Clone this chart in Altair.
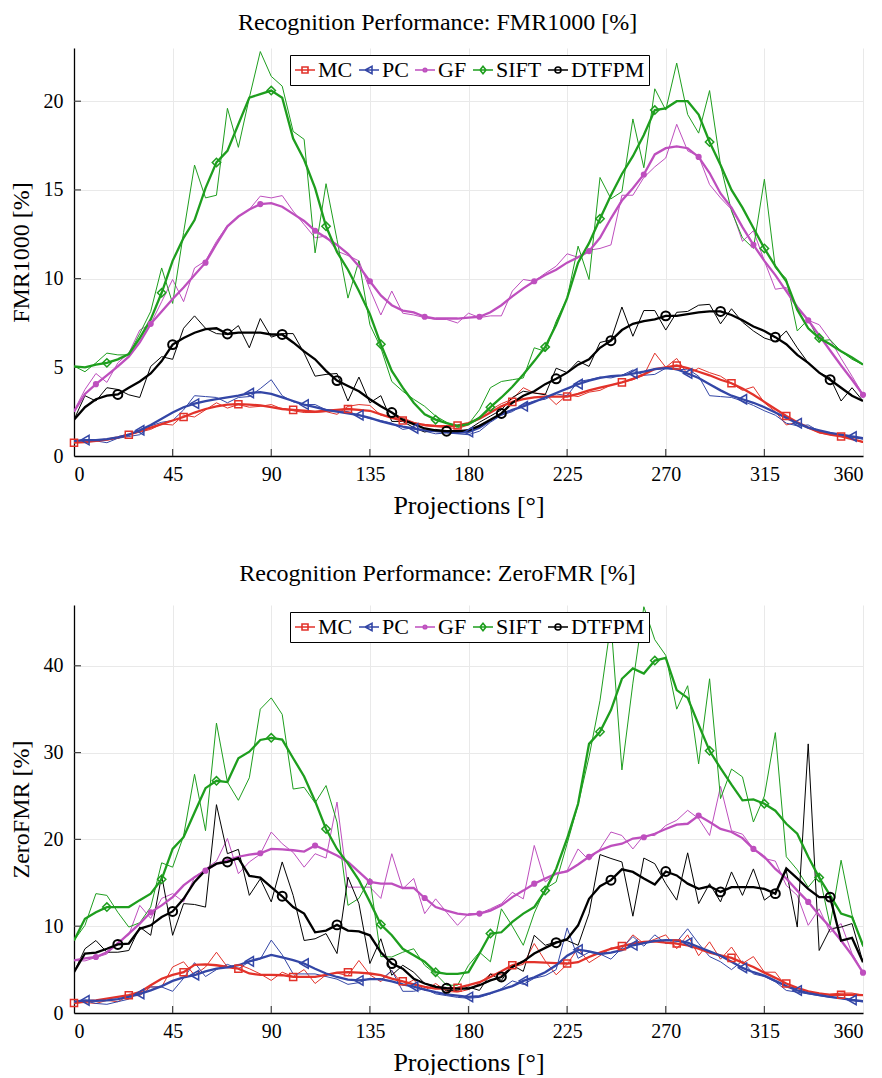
import altair as alt
import pandas as pd

FONT = "'Liberation Serif', 'DejaVu Serif', serif"
DEG = list(range(0, 361, 5))
SERIES = ["MC", "PC", "GF", "SIFT", "DTFPM"]
COLORS = ["#e2322a", "#3346a6", "#be4fbe", "#1e9e1e", "#000000"]
MARKER_START = [0, 5, 10, 15, 20]
MARKER_SHAPES = ["square", "triangle-left", "circle", "diamond", "circle"]
MARKER_SIZES = [50, 90, 38, 70, 80]
MARKER_FILLED = [False, False, True, False, False]
MARKER_STROKE = [1.5, 1.5, 1.5, 1.5, 2.0]
LEGEND_PATHS = [
    "M-1,0L1,0M-0.3,-0.3L0.3,-0.3L0.3,0.3L-0.3,0.3Z",
    "M-1,0L1,0M-0.38,0L0.3,-0.36L0.3,0.36Z",
    "M-1,0L1,0M-0.18,0A0.18,0.18,0,1,1,0.18,0A0.18,0.18,0,1,1,-0.18,0Z",
    "M-1,0L1,0M-0.3,0L0,-0.38L0.3,0L0,0.38Z",
    "M-1,0L1,0M-0.3,0A0.3,0.3,0,1,1,0.3,0A0.3,0.3,0,1,1,-0.3,0Z",
]
X_TICKS = [0, 45, 90, 135, 180, 225, 270, 315, 360]
PLOT_W = 789
PLOT_H = 408

# ---------------- FMR1000 [%] ----------------
MC_FMR_RAW = [0.75, 0.8, 0.85, 0.9, 1.0, 1.2, 1.35, 1.5, 1.8,
              1.75, 2.3, 2.2, 2.6, 3.0, 2.7, 2.9, 2.75, 2.8,
              2.9, 2.65, 2.55, 2.45, 2.45, 2.5, 2.35, 2.8, 2.9,
              2.85, 2.3, 2.2, 2.15, 1.9, 1.7, 1.65, 1.6, 1.55,
              1.75, 2.2, 2.6, 2.95, 3.2, 3.85, 3.55, 3.5, 2.9,
              3.45, 3.35, 3.6, 3.7, 4.0, 4.15, 4.3, 4.55, 5.8,
              5.0, 5.5, 4.6, 4.95, 4.7, 4.5, 4.1, 3.7, 3.9,
              3.0, 2.5, 1.75, 1.9, 1.6, 1.3, 1.2, 1.2, 1.0,
              0.75]
MC_FMR_SMOOTH = [0.75, 0.78, 0.85, 0.92, 1.05, 1.2, 1.4, 1.6, 1.8,
                 2.0, 2.2, 2.45, 2.65, 2.8, 2.9, 2.92, 2.9, 2.85,
                 2.75, 2.65, 2.6, 2.55, 2.5, 2.55, 2.6, 2.65, 2.6,
                 2.55, 2.35, 2.15, 2.0, 1.85, 1.75, 1.7, 1.68, 1.72,
                 1.85, 2.1, 2.45, 2.8, 3.05, 3.2, 3.3, 3.35, 3.35,
                 3.35, 3.5, 3.7, 3.85, 4.0, 4.15, 4.35, 4.6, 4.9,
                 5.0, 5.1, 4.95, 4.75, 4.55, 4.3, 4.1, 3.8, 3.45,
                 3.05, 2.65, 2.25, 1.9, 1.6, 1.35, 1.2, 1.1, 0.95,
                 0.8]
PC_FMR_RAW = [0.8, 0.9, 0.85, 0.75, 1.0, 1.1, 1.2, 1.7, 1.9,
              2.0, 2.6, 3.4, 3.35, 3.3, 3.0, 3.3, 3.35, 3.8,
              4.3, 3.4, 3.05, 2.9, 2.9, 2.6, 2.55, 2.5, 2.3,
              2.1, 2.0, 1.85, 1.5, 1.6, 1.4, 1.25, 1.3, 1.25,
              1.2, 1.4, 1.9, 2.3, 2.5, 2.9, 3.1, 3.2, 3.5,
              3.4, 4.2, 4.3, 4.45, 4.4, 4.55, 4.85, 4.55, 4.6,
              4.95, 4.85, 4.9, 4.5, 3.4, 3.35, 3.3, 3.1, 2.85,
              2.55, 2.3, 1.85, 1.7, 1.75, 1.4, 1.2, 1.15, 1.05,
              0.95]
PC_FMR_SMOOTH = [0.85, 0.9, 0.9, 0.95, 1.05, 1.2, 1.45, 1.75, 2.1,
                 2.45, 2.75, 2.95, 3.1, 3.2, 3.3, 3.4, 3.55, 3.6,
                 3.5, 3.3, 3.1, 2.9, 2.75, 2.6, 2.5, 2.4, 2.3,
                 2.15, 1.95, 1.8, 1.65, 1.55, 1.45, 1.4, 1.35, 1.3,
                 1.35, 1.6, 2.0, 2.35, 2.6, 2.8, 3.05, 3.3, 3.55,
                 3.8, 4.05, 4.25, 4.4, 4.5, 4.55, 4.65, 4.75, 4.9,
                 4.95, 4.9, 4.65, 4.4, 4.05, 3.7, 3.4, 3.2, 3.0,
                 2.75, 2.45, 2.15, 1.85, 1.6, 1.45, 1.3, 1.2, 1.1,
                 1.0]
GF_FMR_RAW = [2.55, 3.75, 4.65, 4.15, 5.25, 5.8, 7.1, 7.45, 8.7,
              9.95, 8.7, 10.6, 11.0, 12.1, 13.0, 13.5, 13.9, 14.65,
              14.55, 14.68, 13.8, 13.05, 12.3, 12.4, 11.55, 11.3, 11.0,
              9.4, 7.95, 9.3, 8.05, 7.95, 7.8, 7.7, 7.7, 7.5,
              8.05, 7.8, 7.9, 7.9, 9.3, 9.95, 9.85, 10.3, 10.7,
              11.4, 11.2, 11.6, 11.7, 11.9, 14.7, 14.7, 15.7, 16.3,
              16.8, 18.7, 17.2, 16.9, 15.3, 14.55, 13.9, 12.1, 12.7,
              11.0, 9.4, 9.5, 8.3, 7.65, 7.4, 6.55, 5.5, 4.5,
              3.45]
GF_FMR_SMOOTH = [2.5, 3.5, 4.05, 4.55, 5.05, 5.6, 6.4, 7.45, 8.15,
                 8.85, 9.5, 10.2, 10.9, 11.95, 12.95, 13.5, 13.9, 14.2,
                 14.25, 14.05, 13.65, 13.25, 12.7, 12.3, 11.9, 11.4, 10.7,
                 9.85, 9.05, 8.5, 8.2, 8.1, 7.85, 7.75, 7.75, 7.75,
                 7.8, 7.85, 8.1, 8.5, 9.0, 9.45, 9.85, 10.2, 10.5,
                 10.9, 11.2, 11.55, 12.3, 13.4, 14.4, 15.1, 15.87, 17.0,
                 17.35, 17.45, 17.35, 16.86, 15.95, 14.8, 14.0, 12.9, 11.9,
                 11.0, 10.2, 9.3, 8.4, 7.65, 6.8, 5.95, 5.1, 4.3,
                 3.45]
SIFT_FMR_RAW = [5.07, 4.75, 5.25, 5.8, 5.7, 5.7, 6.9, 8.15, 10.6,
                8.6, 12.6, 16.4, 14.55, 14.7, 19.6, 17.4, 20.2, 22.8,
                21.4, 20.85, 18.3, 17.85, 11.45, 15.35, 12.2, 8.9, 11.0,
                7.4, 6.1, 4.2, 3.65, 3.2, 2.8, 2.25, 1.9, 1.6,
                1.8, 2.6, 3.85, 4.2, 4.3, 4.4, 6.1, 5.9, 7.6,
                8.9, 11.83, 9.95, 15.7, 14.5, 14.9, 19.0, 16.25, 20.7,
                19.5, 22.15, 19.25, 18.2, 20.6, 16.4, 13.8, 12.3, 11.7,
                15.6, 10.6, 10.0, 7.05, 7.7, 6.5, 6.55, 5.9, 5.45,
                5.15]
SIFT_FMR_SMOOTH = [5.05, 5.0, 5.15, 5.25, 5.45, 5.75, 6.65, 7.7, 9.2,
                   11.0, 12.3, 13.3, 15.1, 16.55, 17.2, 18.7, 20.2, 20.4,
                   20.6, 20.2, 17.9, 16.7, 15.1, 12.95, 11.5, 10.5, 9.3,
                   8.0, 6.3, 4.8, 3.85, 3.0, 2.35, 2.05, 1.85, 1.7,
                   1.8, 2.15, 2.75, 3.3, 3.9, 4.6, 5.35, 6.15, 7.4,
                   8.9, 10.9, 12.0, 13.37, 14.7, 15.9, 16.9, 18.1, 19.5,
                   19.6, 20.0, 20.0, 19.25, 17.7, 16.4, 15.0, 14.0, 12.85,
                   11.7, 10.7, 9.85, 8.25, 7.2, 6.65, 6.3, 5.9, 5.55,
                   5.15]
DTFPM_FMR_RAW = [2.05, 3.4, 3.1, 3.85, 3.75, 3.45, 3.3, 5.05, 5.6,
                 5.45, 7.2, 7.9, 7.2, 6.9, 6.85, 7.35, 6.1, 7.75,
                 6.7, 6.9, 6.9, 5.8, 4.5, 4.6, 4.65, 3.1, 4.45,
                 3.0, 3.4, 1.95, 1.95, 1.6, 1.35, 1.5, 1.4, 1.35,
                 1.5, 1.9, 2.25, 2.6, 3.3, 3.65, 3.55, 3.45, 4.95,
                 4.7, 5.35, 5.05, 6.4, 6.55, 8.4, 6.75, 8.2, 8.2,
                 7.1, 8.1, 8.15, 8.5, 8.55, 7.45, 8.3, 7.55, 7.05,
                 6.65, 6.45, 7.05, 6.1, 5.25, 4.7, 4.4, 3.1, 3.85,
                 3.1]
DTFPM_FMR_SMOOTH = [2.05, 2.75, 3.2, 3.4, 3.47, 3.85, 4.2, 4.65, 5.35,
                    6.28, 6.65, 6.95, 7.15, 7.2, 6.88, 6.95, 6.95, 6.95,
                    6.85, 6.85, 6.4, 5.9, 5.45, 4.8, 4.25, 3.95, 3.65,
                    3.2, 2.8, 2.45, 2.05, 1.8, 1.55, 1.45, 1.4, 1.4,
                    1.45, 1.7, 2.05, 2.4, 3.0, 3.4, 3.65, 4.05, 4.35,
                    4.7, 5.15, 5.45, 6.1, 6.5, 7.1, 7.45, 7.6, 7.7,
                    7.9, 7.9, 8.0, 8.1, 8.15, 8.15, 7.95, 7.65, 7.3,
                    7.05, 6.7, 6.3, 5.7, 5.25, 4.7, 4.3, 3.85, 3.4,
                    3.1]

# ---------------- ZeroFMR [%] ----------------
MC_ZERO_RAW = [1.15, 1.2, 1.1, 1.45, 1.3, 2.0, 2.0, 3.0, 3.0,
               5.3, 5.9, 4.35, 5.3, 7.0, 5.3, 5.6, 5.1, 4.5,
               3.75, 4.7, 4.2, 5.0, 3.4, 4.4, 4.6, 4.3, 6.05,
               4.4, 3.6, 4.9, 3.2, 3.8, 2.6, 3.4, 2.5, 2.4,
               2.7, 3.4, 4.5, 4.4, 5.3, 5.6, 8.0, 6.0, 4.4,
               5.6, 7.5, 5.8, 6.6, 7.5, 7.4, 9.0, 8.0, 8.5,
               9.0, 7.4, 9.0, 6.6, 8.2, 6.2, 7.6, 5.7, 6.5,
               4.7, 4.7, 3.0, 2.9, 2.5, 2.2, 2.15, 2.3, 2.3,
               2.05]
MC_ZERO_SMOOTH = [1.15, 1.35, 1.45, 1.65, 1.85, 2.05, 2.4, 3.2, 3.95,
                  4.4, 4.7, 5.55, 5.6, 5.5, 5.3, 5.1, 4.55, 4.4,
                  4.4, 4.35, 4.15, 4.15, 4.15, 4.4, 4.65, 4.7, 4.65,
                  4.55, 4.35, 3.95, 3.65, 3.3, 3.0, 2.8, 2.8, 2.9,
                  3.2, 3.55, 4.15, 4.8, 5.5, 5.85, 5.85, 5.8, 5.75,
                  5.7, 5.85, 6.45, 6.95, 7.4, 7.7, 8.0, 8.2, 8.25,
                  8.1, 8.0, 7.8, 7.4, 6.95, 6.65, 6.35, 5.8, 5.3,
                  4.65, 4.05, 3.4, 2.9, 2.5, 2.25, 2.1, 2.1, 2.1,
                  2.05]
PC_ZERO_RAW = [1.3, 1.4, 1.1, 1.0, 1.3, 1.6, 2.5, 3.0, 3.0,
               2.5, 4.0, 5.8, 4.2, 5.0, 5.6, 5.1, 5.9, 6.2,
               8.4, 6.7, 4.5, 4.5, 4.5, 4.2, 3.9, 3.3, 3.5,
               4.0, 3.8, 4.9, 2.5, 2.5, 2.8, 2.2, 2.0, 1.8,
               1.7, 1.8, 2.2, 2.8, 3.7, 3.3, 4.0, 4.3, 5.0,
               9.8, 6.3, 7.0, 6.8, 6.2, 7.5, 8.8, 7.7, 9.0,
               8.0, 8.2, 9.7, 8.0, 6.5, 5.9, 5.0, 6.0, 4.5,
               4.2, 3.6, 2.6, 2.4, 2.2, 2.0, 1.8, 1.7, 1.4,
               1.3]
PC_ZERO_SMOOTH = [1.3, 1.45, 1.4, 1.45, 1.6, 1.85, 2.2, 2.6, 3.1,
                  3.7, 4.1, 4.35, 4.8, 5.1, 5.25, 5.5, 5.95, 6.3,
                  6.7, 6.4, 6.1, 5.7, 5.1, 4.55, 4.15, 3.85, 3.75,
                  3.9, 3.9, 3.65, 3.3, 3.05, 2.7, 2.4, 2.15, 2.0,
                  1.85, 1.95, 2.3, 2.7, 3.1, 3.7, 4.1, 4.7, 5.5,
                  6.6, 7.3, 7.1, 6.8, 6.95, 7.25, 7.8, 8.05, 8.3,
                  8.4, 8.35, 8.1, 7.6, 7.1, 6.6, 5.9, 5.2, 4.7,
                  4.3, 3.7, 3.1, 2.6, 2.3, 2.05, 1.85, 1.7, 1.5,
                  1.35]
GF_ZERO_RAW = [6.05, 6.0, 6.4, 6.8, 8.2, 9.0, 12.4, 10.9, 13.2,
               13.75, 12.8, 15.65, 16.6, 17.5, 20.1, 16.05, 17.4, 18.3,
               20.85, 19.5, 18.5, 16.8, 18.35, 17.85, 24.3, 14.5, 14.5,
               14.5, 13.2, 18.35, 14.3, 15.5, 11.45, 13.15, 11.6, 10.1,
               11.45, 11.45, 12.0, 12.6, 13.9, 13.15, 19.3, 15.1, 16.05,
               16.4, 18.9, 17.6, 18.9, 20.85, 20.45, 18.9, 20.45, 20.45,
               21.6, 22.2, 23.35, 22.4, 20.45, 26.1, 21.0, 20.6, 18.9,
               17.8, 17.5, 14.7, 13.55, 10.1, 12.0, 9.3, 10.3, 6.85,
               4.65]
GF_ZERO_SMOOTH = [6.05, 6.3, 6.45, 7.0, 8.0, 9.15, 10.3, 11.6, 12.4,
                  13.35, 14.7, 15.65, 16.4, 17.2, 17.6, 18.0, 18.25, 18.4,
                  18.9, 18.85, 18.75, 18.6, 19.3, 18.75, 18.15, 17.4, 16.25,
                  15.1, 14.9, 14.9, 14.4, 14.4, 13.25, 12.2, 11.8, 11.45,
                  11.3, 11.45, 11.8, 12.4, 13.35, 14.1, 14.9, 15.5, 16.05,
                  16.3, 17.1, 18.0, 18.75, 19.25, 19.5, 20.1, 20.25, 20.65,
                  21.2, 21.7, 21.8, 22.75, 22.0, 21.2, 20.85, 20.15, 18.9,
                  18.0, 16.6, 15.5, 14.1, 12.8, 11.25, 9.9, 8.35, 6.65,
                  4.65]
SIFT_ZERO_RAW = [8.35, 10.1, 13.75, 13.55, 11.6, 9.9, 10.4, 12.2, 17.3,
                 16.8, 20.4, 27.5, 21.0, 33.4, 26.6, 24.5, 27.1, 35.0,
                 36.3, 34.4, 25.8, 26.0, 24.2, 26.2, 22.0, 12.4, 13.2,
                 15.5, 6.5, 6.45, 7.0, 7.4, 5.5, 4.5, 3.2, 3.2,
                 5.5, 7.0, 5.9, 12.0, 10.0, 7.8, 11.5, 14.3, 15.1,
                 19.5, 24.0, 29.5, 36.0, 45.0, 28.0, 38.0, 46.8, 43.0,
                 41.2, 35.0, 37.7, 28.7, 38.5, 24.7, 28.1, 27.2, 22.0,
                 25.0, 32.3, 18.0, 16.5, 14.5, 16.0, 10.1, 17.6, 11.3,
                 7.6]
SIFT_ZERO_SMOOTH = [8.35, 10.85, 11.6, 12.2, 12.2, 12.2, 13.0, 13.75, 15.4,
                    18.9, 20.25, 23.1, 25.9, 26.75, 26.6, 29.35, 30.1, 31.45,
                    31.7, 31.5, 29.35, 27.25, 24.4, 21.2, 18.9, 17.2, 15.3,
                    12.8, 10.2, 8.95, 7.4, 6.65, 5.9, 4.7, 4.5, 4.5,
                    4.7, 6.85, 9.15, 9.3, 10.5, 11.45, 12.2, 14.1, 16.6,
                    20.1, 24.1, 31.0, 32.4, 34.9, 38.5, 39.7, 39.1, 40.6,
                    40.9, 37.2, 36.3, 33.2, 30.2, 28.2, 26.3, 24.5, 24.6,
                    24.1, 23.3, 21.8, 20.65, 18.0, 15.6, 13.55, 11.45, 11.05,
                    7.8]
DTFPM_ZERO_RAW = [4.7, 7.4, 8.35, 7.0, 7.0, 7.2, 9.9, 8.95, 15.85,
                  8.95, 12.6, 12.5, 12.2, 24.0, 18.35, 18.85, 13.55, 15.45,
                  12.8, 17.4, 13.55, 8.35, 8.55, 9.15, 6.85, 15.65, 12.6,
                  5.7, 8.55, 4.35, 5.5, 4.7, 3.4, 3.1, 2.6, 2.6,
                  3.0, 2.6, 4.5, 3.75, 5.5, 4.8, 8.95, 7.8, 8.2,
                  8.35, 7.8, 11.45, 18.25, 17.8, 17.4, 11.15, 17.85, 17.2,
                  14.9, 13.0, 18.45, 12.6, 14.9, 12.8, 16.25, 13.55, 16.6,
                  13.0, 13.95, 16.4, 9.9, 31.0, 7.2, 9.7, 9.9, 10.3,
                  5.85]
DTFPM_ZERO_SMOOTH = [4.7, 6.85, 6.95, 7.4, 7.9, 8.0, 9.7, 10.1, 11.05,
                     11.7, 13.15, 15.1, 16.45, 17.2, 17.4, 17.85, 15.8, 15.6,
                     14.5, 13.45, 12.2, 11.45, 9.3, 9.5, 10.15, 9.5, 9.4,
                     8.95, 7.0, 5.7, 5.1, 3.95, 3.4, 3.0, 2.85, 2.8,
                     2.8, 3.2, 3.75, 4.15, 5.3, 5.95, 6.85, 7.5, 8.1,
                     8.5, 10.1, 13.15, 14.6, 15.3, 16.55, 16.25, 15.5, 14.8,
                     16.3, 15.85, 14.9, 14.3, 14.6, 13.95, 14.5, 14.5, 14.5,
                     14.3, 13.75, 16.65, 15.5, 14.3, 13.35, 13.35, 8.35, 8.65,
                     5.85]

FMR_DATA = {
    "MC": (MC_FMR_RAW, MC_FMR_SMOOTH),
    "PC": (PC_FMR_RAW, PC_FMR_SMOOTH),
    "GF": (GF_FMR_RAW, GF_FMR_SMOOTH),
    "SIFT": (SIFT_FMR_RAW, SIFT_FMR_SMOOTH),
    "DTFPM": (DTFPM_FMR_RAW, DTFPM_FMR_SMOOTH),
}
ZERO_DATA = {
    "MC": (MC_ZERO_RAW, MC_ZERO_SMOOTH),
    "PC": (PC_ZERO_RAW, PC_ZERO_SMOOTH),
    "GF": (GF_ZERO_RAW, GF_ZERO_SMOOTH),
    "SIFT": (SIFT_ZERO_RAW, SIFT_ZERO_SMOOTH),
    "DTFPM": (DTFPM_ZERO_RAW, DTFPM_ZERO_SMOOTH),
}


def build_frame(data):
    rows = []
    for si, s in enumerate(SERIES):
        raw, sm = data[s]
        assert len(raw) == len(DEG) and len(sm) == len(DEG), s
        for d, r, m in zip(DEG, raw, sm):
            rows.append({"deg": d, "series": s, "raw": r, "smooth": m,
                         "start": MARKER_START[si]})
    return pd.DataFrame(rows)


def panel(data, title, ytitle, ymax, yticks, title_offset):
    df = build_frame(data)
    base = alt.Chart(df)
    xscale = alt.Scale(domain=[0, 360], nice=False, zero=False)
    xenc = alt.X("deg:Q", scale=xscale, axis=alt.Axis(values=X_TICKS, title="Projections [°]"))
    yscale = alt.Scale(domain=[0, ymax], nice=False)
    yaxis = alt.Axis(values=yticks, title=ytitle)
    color_none = alt.Color("series:N", scale=alt.Scale(domain=SERIES, range=COLORS), legend=None)

    raw = base.mark_line(strokeWidth=1, clip=True).encode(
        x=xenc, y=alt.Y("raw:Q", scale=yscale, axis=yaxis), color=color_none)
    smooth = base.mark_line(strokeWidth=2.3, clip=True).encode(
        x=xenc, y=alt.Y("smooth:Q", scale=yscale, axis=yaxis), color=color_none)

    # inward tick marks along the axes
    xt = alt.Chart(pd.DataFrame({"deg": X_TICKS[1:-1]})).mark_rule(
        color="#444", strokeWidth=1.2).encode(
        x=alt.X("deg:Q", scale=xscale), y=alt.value(PLOT_H - 7), y2=alt.value(PLOT_H))
    yt = alt.Chart(pd.DataFrame({"v": yticks[1:]})).mark_rule(
        color="#444", strokeWidth=1.2).encode(
        y=alt.Y("v:Q", scale=yscale), x=alt.value(0), x2=alt.value(7))

    layers = [xt, yt, raw, smooth]
    for si, s in enumerate(SERIES):
        m = base.transform_filter(
            f"datum.series == '{s}' && (datum.deg - datum.start) % 25 == 0 && datum.deg >= datum.start"
        ).mark_point(shape=MARKER_SHAPES[si], size=MARKER_SIZES[si], filled=MARKER_FILLED[si],
                     strokeWidth=MARKER_STROKE[si], color=COLORS[si], opacity=1).encode(
            x=xenc, y=alt.Y("smooth:Q", scale=yscale, axis=yaxis))
        layers.append(m)

    leg = base.transform_filter("false").mark_point(filled=False, opacity=1).encode(
        x=xenc, y=alt.Y("smooth:Q", scale=yscale, axis=yaxis),
        color=alt.Color("series:N", scale=alt.Scale(domain=SERIES, range=COLORS),
                        legend=alt.Legend(title=None)),
        shape=alt.Shape("series:N", scale=alt.Scale(domain=SERIES, range=LEGEND_PATHS),
                        legend=alt.Legend(title=None)),
    )
    layers.append(leg)

    return alt.layer(*layers).resolve_scale(color="independent", shape="independent").properties(
        width=PLOT_W, height=PLOT_H,
        title=alt.Title(title, font=FONT, fontSize=24, fontWeight="normal", color="black",
                        anchor="middle", frame="bounds", offset=title_offset),
    )


top = panel(FMR_DATA, "Recognition Performance: FMR1000 [%]", "FMR1000 [%]", 23,
            [0, 5, 10, 15, 20], 13)
bottom = panel(ZERO_DATA, "Recognition Performance: ZeroFMR [%]", "ZeroFMR [%]", 47,
               [0, 10, 20, 30, 40], 19)

chart = alt.vconcat(top, bottom, spacing=44).resolve_scale(
    color="independent", shape="independent"
).resolve_legend(color="independent", shape="independent").properties(
    padding={"left": 9, "top": 11, "right": 12, "bottom": 0}
).configure_view(stroke=None).configure_axis(
    labelFont=FONT, labelFontSize=20, labelColor="black",
    titleFont=FONT, titleFontWeight="normal", titleColor="black",
    gridColor="#e9e9e9", gridWidth=1, domainColor="black", domainWidth=1.3,
    ticks=False,
).configure_axisX(titleFontSize=26, labelPadding=8, titlePadding=8).configure_axisY(
    titleFontSize=24, labelPadding=11, titlePadding=10
).configure_legend(
    orient="none", legendX=216, legendY=7, direction="horizontal",
    strokeColor="black", strokeWidth=1, fillColor="white", padding=4, cornerRadius=0,
    symbolSize=400, symbolStrokeWidth=1.6, symbolOpacity=1,
    labelFont=FONT, labelFontSize=22, labelColor="black", labelOffset=2, columnPadding=2,
    labelLimit=0,
)

chart.save("out.html", embed_options={"renderer": "svg", "actions": False})
